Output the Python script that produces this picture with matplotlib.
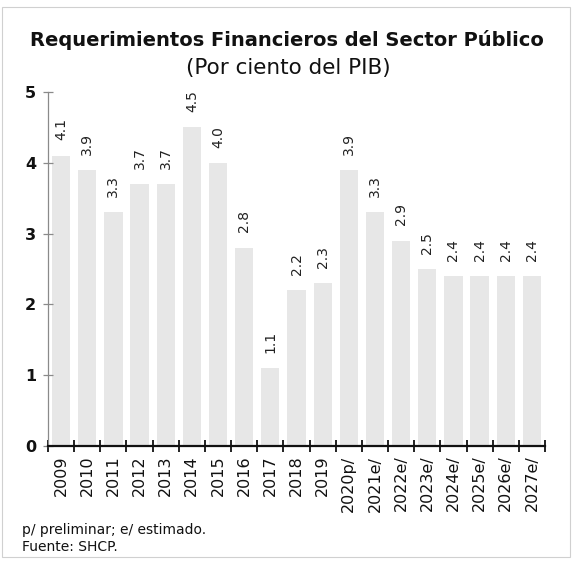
import matplotlib
matplotlib.use("Agg")
import matplotlib.pyplot as plt
from matplotlib.patches import Rectangle
import numpy as np

years = ["2009", "2010", "2011", "2012", "2013", "2014", "2015", "2016", "2017",
         "2018", "2019", "2020p/", "2021e/", "2022e/", "2023e/", "2024e/",
         "2025e/", "2026e/", "2027e/"]
values = [4.1, 3.9, 3.3, 3.7, 3.7, 4.5, 4.0, 2.8, 1.1, 2.2, 2.3, 3.9, 3.3, 2.9,
          2.5, 2.4, 2.4, 2.4, 2.4]
value_labels = ["4.1", "3.9", "3.3", "3.7", "3.7", "4.5", "4.0", "2.8", "1.1", "2.2",
                "2.3", "3.9", "3.3", "2.9", "2.5", "2.4", "2.4", "2.4", "2.4"]
y_ticks = [0, 1, 2, 3, 4, 5]

title = "Requerimientos Financieros del Sector Público"
subtitle = "(Por ciento del PIB)"
note1 = "p/ preliminar; e/ estimado."
note2 = "Fuente: SHCP."

FONT = ["DejaVu Sans"]
plt.rcParams["font.family"] = FONT

fig = plt.figure(figsize=(5.73, 5.64), dpi=100)
fig.patch.set_facecolor("white")

W, H = 573, 564
ax = fig.add_axes([48 / W, 1 - 446 / H, (545 - 48) / W, (446 - 92) / H])

x = np.arange(len(years))
ax.bar(x, values, width=0.7, color="#e7e7e7", zorder=1)

for xi, v, lab in zip(x, values, value_labels):
    ax.annotate(lab, (xi, v), xytext=(0, 11), textcoords="offset points",
                rotation=90, ha="center", va="bottom", fontsize=10,
                color="#222222", annotation_clip=False)

ax.set_xlim(-0.5, len(years) - 0.5)
ax.set_ylim(0, 5)

for s in ["top", "right"]:
    ax.spines[s].set_visible(False)
ax.spines["bottom"].set_color("#111111")
ax.spines["bottom"].set_linewidth(1.6)
ax.spines["bottom"].set_zorder(3)
ax.spines["left"].set_color("#8a8a8a")
ax.spines["left"].set_linewidth(0.9)

ax.set_xticks(np.arange(-0.5, len(years)), minor=False)
ax.set_xticklabels([])
ax.tick_params(axis="x", which="major", direction="inout", length=8, width=1.3,
               color="#111111")
ax.set_xticks(x, minor=True)
ax.set_xticklabels(years, minor=True, rotation=90, fontsize=11.5, color="#111111")
ax.tick_params(axis="x", which="minor", length=0, pad=7)
for t in ax.get_xticklabels(minor=True):
    t.set_verticalalignment("top")

ax.set_yticks(y_ticks)
ax.set_yticklabels([str(t) for t in y_ticks], fontsize=11.5, fontweight="bold",
                   color="#111111")
ax.tick_params(axis="y", direction="inout", length=7, width=0.9, color="#8a8a8a",
               pad=5)

fig.text(0.5 * (25 + 548) / W, 1 - 40 / H, title, ha="center", va="center",
         fontsize=14, fontweight="bold", color="#111111")
fig.text(288 / W, 1 - 68 / H, subtitle, ha="center", va="center",
         fontsize=15.5, color="#111111")

fig.text(22 / W, 1 - 530 / H, note1, ha="left", va="center", fontsize=10,
         color="#111111")
fig.text(22 / W, 1 - 547 / H, note2, ha="left", va="center", fontsize=10,
         color="#111111")

fig.patches.append(Rectangle((2 / W, 1 - 557 / H), (570 - 2) / W, (557 - 7) / H,
                             transform=fig.transFigure, fill=False,
                             edgecolor="#d0d0d0", linewidth=0.8))

fig.savefig("out.png", dpi=100)
